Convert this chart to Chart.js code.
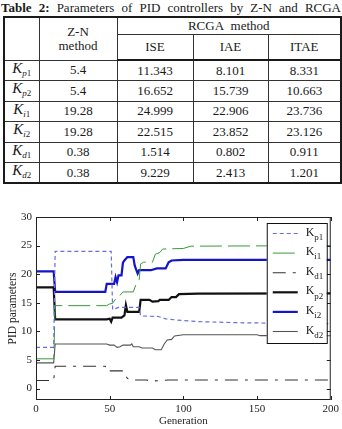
<!DOCTYPE html>
<html>
<head>
<meta charset="utf-8">
<script src="https://cdn.jsdelivr.net/npm/chart.js@4.4.1/dist/chart.umd.min.js"></script>
<style>
    html, body { margin: 0; padding: 0; background: #fff; }
    body {
        width: 342px; height: 429px; position: relative; overflow: hidden;
        font-family: "Liberation Serif", "Times New Roman", serif; color: #1a1a1a;
    }
    #caption {
        position: absolute; left: 1px; top: 0px; width: 340px;
        font-size: 13px; line-height: 16px;
        text-align: justify; text-align-last: justify;
    }
    #params {
        position: absolute; left: 3px; top: 16px; width: 337px;
        border-collapse: collapse; border: 2px solid #1a1a1a;
        font-size: 13px; table-layout: fixed;
    }
    #params td, #params th {
        border: 1px solid #333; text-align: center; padding: 0;
        font-weight: normal; line-height: 14px;
    }
    #params tr.sub th { border-bottom: 2px solid #1a1a1a; height: 24px; }
    #params tr.top th { height: 16px; }
    #params tbody tr { height: 20.5px; }
    #params .k { font-style: italic; font-size: 15px; }
    #params sub { font-size: 9px; vertical-align: -3px; }
    #chartBox { position: absolute; left: 0; top: 180px; width: 342px; height: 249px; }
</style>
</head>
<body>
<div id="caption"><b>Table 2:</b> Parameters of PID controllers by Z-N and RCGA</div>
<table id="params">
    <colgroup>
        <col style="width:35px"><col style="width:78px"><col style="width:76px"><col style="width:75px"><col style="width:73px">
    </colgroup>
    <thead>
        <tr class="top">
            <th rowspan="2"></th>
            <th rowspan="2" id="znHead">Z-N<br>method</th>
            <th colspan="3">RCGA&nbsp; method</th>
        </tr>
        <tr class="sub" id="subHead"></tr>
    </thead>
    <tbody id="paramRows"></tbody>
</table>
<div id="chartBox"><canvas id="pidChart"></canvas></div>

<script>
// table values
const rcgaMethods = ['ISE', 'IAE', 'ITAE'];
const paramSubs = ['p1', 'p2', 'i1', 'i2', 'd1', 'd2'];
const znValues = ['5.4', '5.4', '19.28', '19.28', '0.38', '0.38'];
const iseValues = ['11.343', '16.652', '24.999', '22.515', '1.514', '9.229'];
const iaeValues = ['8.101', '15.739', '22.906', '23.852', '0.802', '2.413'];
const itaeValues = ['8.331', '10.663', '23.736', '23.126', '0.911', '1.201'];

// chart values (generation, parameter value)
const xTicks = [0, 50, 100, 150, 200];
const yTicks = [0, 5, 10, 15, 20, 25, 30];

const kp1Gen = [0, 12, 13, 51, 52, 56, 70, 71, 83, 88, 95, 110, 140, 200];
const kp1Val = [7.2, 7.2, 24, 24, 13.8, 14.2, 14.2, 12.7, 12.6, 12.2, 12.0, 11.7, 11.5, 11.34];

const ki1Gen = [0, 12, 13, 48, 50, 52, 55, 57, 59, 66, 68, 70, 71, 73, 79, 81, 84, 86, 100, 105, 200];
const ki1Val = [5.2, 5.2, 14.5, 14.5, 14.8, 14.9, 16.0, 16.3, 16.9, 16.9, 18.3, 19.0, 21.8, 22.1, 22.1, 23.5, 23.8, 24.4, 24.5, 24.9, 25.0];

const kd1Gen = [0, 12, 13, 47, 48, 59, 60, 62, 64, 75, 78, 85, 90, 200];
const kd1Val = [1.4, 1.4, 3.9, 3.9, 3.1, 3.1, 2.6, 1.8, 1.5, 1.5, 1.3, 1.4, 1.5, 1.51];

const kp2Gen = [0, 12, 13, 48, 50, 51, 52, 58, 60, 61, 62, 70, 71, 77, 79, 83, 84, 90, 92, 95, 97, 110, 200];
const kp2Val = [17.7, 17.7, 12.1, 12.1, 12.2, 11.7, 12.4, 12.4, 12.8, 14.6, 13.4, 13.4, 15.5, 15.5, 15.2, 15.3, 15.5, 15.5, 16.0, 16.0, 16.5, 16.6, 16.65];

const ki2Gen = [0, 12, 13, 47, 48, 53, 54, 55, 56, 58, 59, 60, 62, 66, 67, 69, 70, 78, 82, 88, 90, 92, 100, 200];
const ki2Val = [20.5, 20.5, 16.9, 16.9, 18.3, 18.3, 19.5, 18.6, 19.8, 19.8, 22.0, 22.4, 23.0, 23.0, 21.5, 20.1, 20.7, 20.7, 21.0, 21.0, 22.1, 22.4, 22.5, 22.5];

const kd2Gen = [0, 12, 13, 48, 50, 53, 55, 57, 59, 64, 65, 66, 70, 72, 79, 81, 85, 87, 89, 92, 94, 100, 150, 152, 200];
const kd2Val = [4.5, 4.5, 7.8, 7.8, 7.6, 7.6, 7.2, 7.3, 7.6, 7.6, 7.8, 7.3, 7.3, 7.1, 7.1, 6.8, 6.8, 7.8, 8.5, 8.6, 9.2, 9.4, 9.4, 9.25, 9.23];

const legendSubs = ['p1', 'i1', 'd1', 'p2', 'i2', 'd2'];

function buildTable() {
    const subHead = document.getElementById('subHead');
    for (const m of rcgaMethods) {
        const th = document.createElement('th');
        th.textContent = m;
        subHead.appendChild(th);
    }
    const body = document.getElementById('paramRows');
    paramSubs.forEach((sub, i) => {
        const tr = document.createElement('tr');
        tr.innerHTML = `<td><span class="k">K</span><sub><i>${sub[0]}</i>${sub.slice(1)}</sub></td>`
            + `<td>${znValues[i]}</td><td>${iseValues[i]}</td><td>${iaeValues[i]}</td><td>${itaeValues[i]}</td>`;
        body.appendChild(tr);
    });
}

function toPoints(gens, vals) {
    return gens.map((g, i) => ({ x: g, y: vals[i] }));
}

function series(label, gens, vals, color, width, dash) {
    return {
        label: label,
        data: toPoints(gens, vals),
        borderColor: color,
        borderWidth: width,
        borderDash: dash,
        pointRadius: 0,
        tension: 0,
        fill: false
    };
}

const framePlugin = {
    id: 'frame',
    afterDraw(chart) {
        const { ctx, chartArea: a, scales } = chart;
        ctx.save();
        ctx.strokeStyle = '#222';
        ctx.lineWidth = 1;
        ctx.setLineDash([]);
        ctx.strokeRect(a.left + 0.5, a.top + 0.5, a.right - a.left - 1, a.bottom - a.top - 1);

        const len = 4;
        ctx.beginPath();
        xTicks.forEach((v) => {
            const px = Math.round(scales.x.getPixelForValue(v)) + 0.5;
            ctx.moveTo(px, a.bottom); ctx.lineTo(px, a.bottom - len);
            ctx.moveTo(px, a.top); ctx.lineTo(px, a.top + len);
        });
        yTicks.forEach((v) => {
            const py = Math.round(scales.y.getPixelForValue(v)) + 0.5;
            ctx.moveTo(a.left, py); ctx.lineTo(a.left + len, py);
            ctx.moveTo(a.right, py); ctx.lineTo(a.right - len, py);
        });
        ctx.stroke();

        // legend box, top right inside the axes
        const bw = 60, bh = 120, rowH = 19.6;
        const bx = a.right - 4 - bw, by = a.top + 6;
        ctx.fillStyle = '#fff';
        ctx.fillRect(bx, by, bw, bh);
        ctx.strokeStyle = '#111';
        ctx.strokeRect(bx + 0.5, by + 0.5, bw, bh);

        chart.data.datasets.forEach((ds, i) => {
            const cy = by + 10.5 + i * rowH;
            ctx.beginPath();
            ctx.strokeStyle = ds.borderColor;
            ctx.lineWidth = ds.borderWidth;
            ctx.setLineDash(ds.borderDash || []);
            ctx.moveTo(bx + 6, cy);
            ctx.lineTo(bx + 31, cy);
            ctx.stroke();
            ctx.setLineDash([]);

            ctx.fillStyle = '#1a1a1a';
            ctx.textBaseline = 'middle';
            ctx.font = '12px "Liberation Serif"';
            ctx.fillText('K', bx + 39, cy - 1);
            ctx.font = '9px "Liberation Serif"';
            ctx.fillText(legendSubs[i], bx + 47.5, cy + 4);
        });
        ctx.restore();
    }
};

function renderChart() {
    const ctx = document.getElementById('pidChart');
    const tickFont = { family: 'Liberation Serif', size: 11 };

    new Chart(ctx, {
        type: 'line',
        data: {
            datasets: [
                series('Kp1', kp1Gen, kp1Val, '#6b6be3', 1.2, [4, 3]),
                series('Ki1', ki1Gen, ki1Val, '#3a9a3a', 1, [22, 6]),
                series('Kd1', kd1Gen, kd1Val, '#333333', 1.1, [13, 7, 3, 7]),
                series('Kp2', kp2Gen, kp2Val, '#111111', 2.2, []),
                series('Ki2', ki2Gen, ki2Val, '#1414c8', 2.2, []),
                series('Kd2', kd2Gen, kd2Val, '#555555', 1.1, [])
            ]
        },
        options: {
            responsive: true,
            maintainAspectRatio: false,
            animation: false,
            layout: { padding: { top: 37, right: 10, left: 6, bottom: 1 } },
            plugins: { legend: { display: false }, tooltip: { enabled: false } },
            scales: {
                x: {
                    type: 'linear', min: 0, max: 200,
                    grid: { display: false, drawTicks: false },
                    border: { display: false },
                    afterBuildTicks: (scale) => { scale.ticks = xTicks.map((v) => ({ value: v })); },
                    afterFit: (scale) => { scale.height = 28; },
                    ticks: { font: tickFont, color: '#222', padding: 3, maxRotation: 0 },
                    title: { display: true, text: 'Generation', font: tickFont, color: '#222', padding: 0 }
                },
                y: {
                    type: 'linear', min: -2, max: 30,
                    grid: { display: false, drawTicks: false },
                    border: { display: false },
                    afterBuildTicks: (scale) => { scale.ticks = yTicks.map((v) => ({ value: v })); },
                    afterFit: (scale) => { scale.width = 30; },
                    ticks: { font: tickFont, color: '#222', padding: 4 },
                    title: { display: true, text: 'PID parameters', font: { family: 'Liberation Serif', size: 11.5 }, color: '#222', padding: 0 }
                }
            }
        },
        plugins: [framePlugin]
    });
}

buildTable();
renderChart();
</script>
</body>
</html>
